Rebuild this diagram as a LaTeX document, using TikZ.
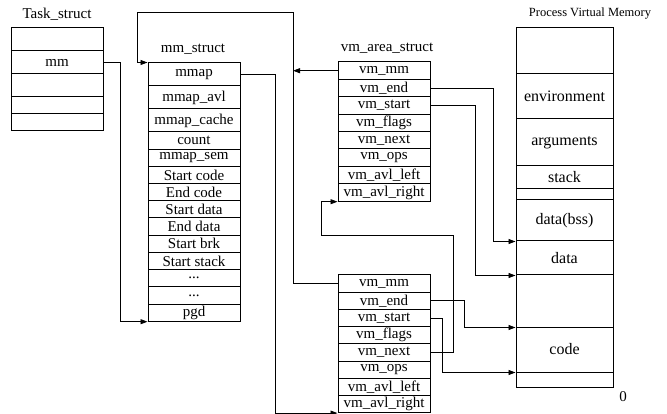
\documentclass[tikz,border=0pt]{standalone}
\usepackage{fontspec}
\setmainfont{Liberation Serif}
\usetikzlibrary{arrows.meta}
\begin{document}
\begin{tikzpicture}[x=1pt,y=-1pt,
  cell/.style={draw,line width=1pt,inner sep=0pt,minimum width=92pt,
    font=\fontsize{15}{16}\selectfont},
  pcell/.style={draw,line width=1pt,inner sep=0pt,minimum width=97pt,
    font=\fontsize{16}{17}\selectfont},
  title/.style={inner sep=0pt,font=\fontsize{15}{16}\selectfont},
  link/.style={line width=0.9pt,-{Triangle[length=7pt,width=5pt]}},
  wire/.style={line width=0.9pt}]
\useasboundingbox (0,0) rectangle (667,414);

% task_struct
\node[title] (tasklbl) at (57,14) {Task\_struct};
\node[cell,minimum height=23pt] (t1) at (57,39.5) {};
\node[cell,minimum height=23pt] (tmm) at (57,62.5) {mm};
\node[cell,minimum height=23pt] (t3) at (57,85.5) {};
\node[cell,minimum height=17pt] (t4) at (57,105.5) {};
\node[cell,minimum height=17pt] (t5) at (57,122.5) {};

% mm_struct
\node[title] (mmlbl) at (193,49) {mm\_struct};
\node[cell,minimum height=23pt] (mmap) at (194,74.5) {mmap};
\node[cell,minimum height=23pt] (mmavl) at (194,97.5) {mmap\_avl};
\node[cell,minimum height=23pt] (mmcache) at (194,120.5) {mmap\_cache};
\node[cell,minimum height=17.2pt] (count) at (194,140.6) {count};
\node[cell,minimum height=17.2pt] (mmsem) at (194,157.8) {mmap\_sem};
\node[cell,minimum height=17.2pt] (scode) at (194,175.0) {Start code};
\node[cell,minimum height=17.2pt] (ecode) at (194,192.2) {End code};
\node[cell,minimum height=17.2pt] (sdata) at (194,209.4) {Start data};
\node[cell,minimum height=17.2pt] (edata) at (194,226.6) {End data};
\node[cell,minimum height=17.2pt] (sbrk) at (194,243.8) {Start brk};
\node[cell,minimum height=17.2pt] (sstack) at (194,261.0) {Start stack};
\node[cell,minimum height=17.2pt] (dots1) at (194,278.2) {...};
\node[cell,minimum height=17.2pt] (dots2) at (194,295.4) {...};
\node[cell,minimum height=17.2pt] (pgd) at (194,312.6) {pgd};

% upper vm_area_struct
\node[title] (vmlbl) at (387,48) {vm\_area\_struct};
\node[cell,minimum height=17.4pt] (uvmm) at (384,70.7) {vm\_mm};
\node[cell,minimum height=17.4pt] (uvend) at (384,88.1) {vm\_end};
\node[cell,minimum height=17.4pt] (uvstart) at (384,105.5) {vm\_start};
\node[cell,minimum height=17.4pt] (uvflags) at (384,122.9) {vm\_flags};
\node[cell,minimum height=17.4pt] (uvnext) at (384,140.3) {vm\_next};
\node[cell,minimum height=17.4pt] (uvops) at (384,157.7) {vm\_ops};
\node[cell,minimum height=17.4pt] (uvleft) at (384,175.1) {vm\_avl\_left};
\node[cell,minimum height=17.4pt] (uvright) at (384,192.5) {vm\_avl\_right};

% lower vm_area_struct
\node[cell,minimum height=17.2pt] (lvmm) at (384,283.6) {vm\_mm};
\node[cell,minimum height=17.2pt] (lvend) at (384,300.8) {vm\_end};
\node[cell,minimum height=17.2pt] (lvstart) at (384,318.0) {vm\_start};
\node[cell,minimum height=17.2pt] (lvflags) at (384,335.2) {vm\_flags};
\node[cell,minimum height=17.2pt] (lvnext) at (384,352.4) {vm\_next};
\node[cell,minimum height=17.2pt] (lvops) at (384,369.6) {vm\_ops};
\node[cell,minimum height=17.2pt] (lvleft) at (384,386.8) {vm\_avl\_left};
\node[cell,minimum height=17.2pt] (lvright) at (384,404.0) {vm\_avl\_right};

% process virtual memory
\node[title,font=\fontsize{12.5}{14}\selectfont] (pvmlbl) at (590,14) {Process Virtual Memory};
\node[pcell,minimum height=46pt] (ptop) at (564.5,51) {};
\node[pcell,minimum height=45pt] (penv) at (564.5,96.5) {environment};
\node[pcell,minimum height=47pt] (pargs) at (564.5,142.5) {arguments};
\node[pcell,minimum height=23pt] (pstack) at (564.5,177.5) {stack};
\node[pcell,minimum height=11pt] (pgap1) at (564.5,194.5) {};
\node[pcell,minimum height=41pt] (pbss) at (564.5,220.5) {data(bss)};
\node[pcell,minimum height=34pt] (pdata) at (564.5,258) {data};
\node[pcell,minimum height=52pt] (pgap2) at (564.5,301) {};
\node[pcell,minimum height=45pt] (pcode) at (564.5,349.5) {code};
\node[pcell,minimum height=15pt] (pbot) at (564.5,379.5) {};
\node[title] (zero) at (623,397) {0};

% bend points of the vm_mm loop and the avl return path
\coordinate (spine) at (293,12);
\coordinate (loopx) at (137,12);
\coordinate (ret) at (321,235);

% connectors
\draw[link] (tmm.east) -- ++(17,0) |- (pgd.south west);
\draw[link] (mmap.east) -- ++(35,0) |- (lvright.south west);
\draw[link] (uvmm.west) -- (uvmm.west -| spine);
\draw[link] (lvmm.west) -| (spine) -- (loopx) |- (mmap.north west);
\draw[link] (uvend.east) -- ++(63,0) |- (pbss.south west);
\draw[link] (uvstart.east) -- ++(45,0) |- (pdata.south west);
\draw[link] (lvend.east) -- ++(34,0) |- (pgap2.south west);
\draw[link] (lvstart.east) -- ++(12,0) |- (pcode.south west);
\draw[link] (lvnext.east) -- ++(23,0) |- (ret) |- (uvright.south west);
\end{tikzpicture}
\end{document}
